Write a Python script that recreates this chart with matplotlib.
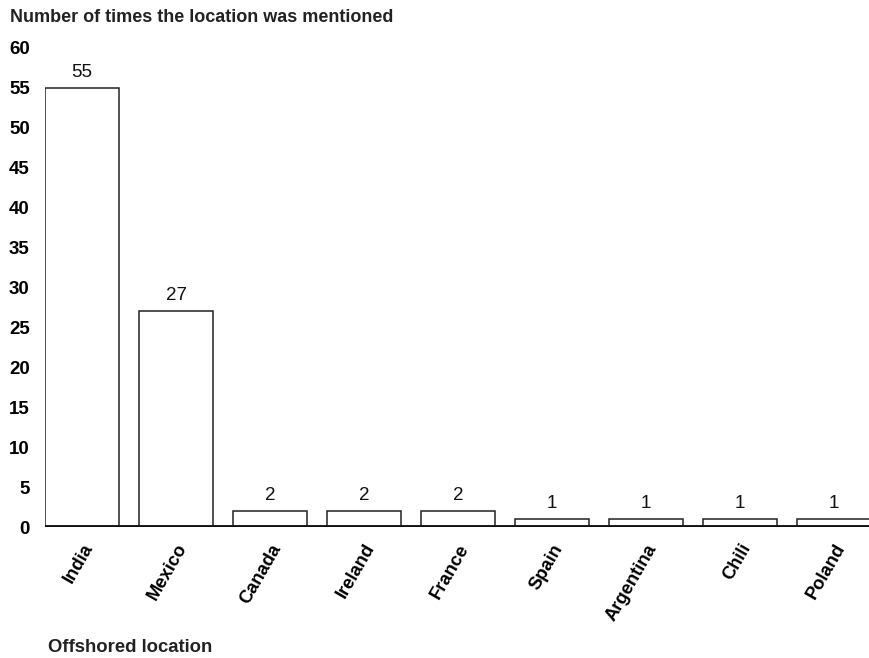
import matplotlib.pyplot as plt

plt.rcParams['font.family'] = ['Liberation Sans', 'DejaVu Sans']

locations = ['India', 'Mexico', 'Canada', 'Ireland', 'France',
             'Spain', 'Argentina', 'Chili', 'Poland']
mentions = [55, 27, 2, 2, 2, 1, 1, 1, 1]
yticks = [0, 5, 10, 15, 20, 25, 30, 35, 40, 45, 50, 55, 60]

fig = plt.figure(figsize=(8.7, 6.58), dpi=100)
ax = fig.add_axes([45/870, (658-527)/658, 825/870, 479/658])

x = range(len(locations))
bars = ax.bar(x, mentions, width=0.787, color='white', edgecolor='#222222',
              linewidth=1.1, zorder=2)
for b, v in zip(bars, mentions):
    ax.text(b.get_x() + b.get_width()/2, v + 0.9, str(v), ha='center',
            va='bottom', fontsize=13.5, color='#111111')

ax.axhline(0, color='#111111', linewidth=3.5, zorder=3)

ax.set_xlim(-0.394, 8.383)
ax.set_ylim(0, 60)
ax.set_yticks(yticks)
ax.set_yticklabels([str(t) for t in yticks], fontsize=13.5, fontweight='bold')
ax.set_xticks(list(x))
ax.set_xticklabels(locations, rotation=60, ha='right', rotation_mode='anchor',
                   fontsize=13.2, fontweight='bold')
ax.tick_params(axis='y', length=0, pad=11)
ax.tick_params(axis='x', length=0, pad=10)
for s in ax.spines.values():
    s.set_visible(False)

fig.text(10/870, 1 - 18/658, 'Number of times the location was mentioned',
         ha='left', va='center', fontsize=13, fontweight='bold', color='#222222')
fig.text(48/870, 1 - 648/658, 'Offshored location', ha='left', va='center',
         fontsize=13.3, fontweight='bold', color='#222222')

fig.savefig('out.png', dpi=100)
